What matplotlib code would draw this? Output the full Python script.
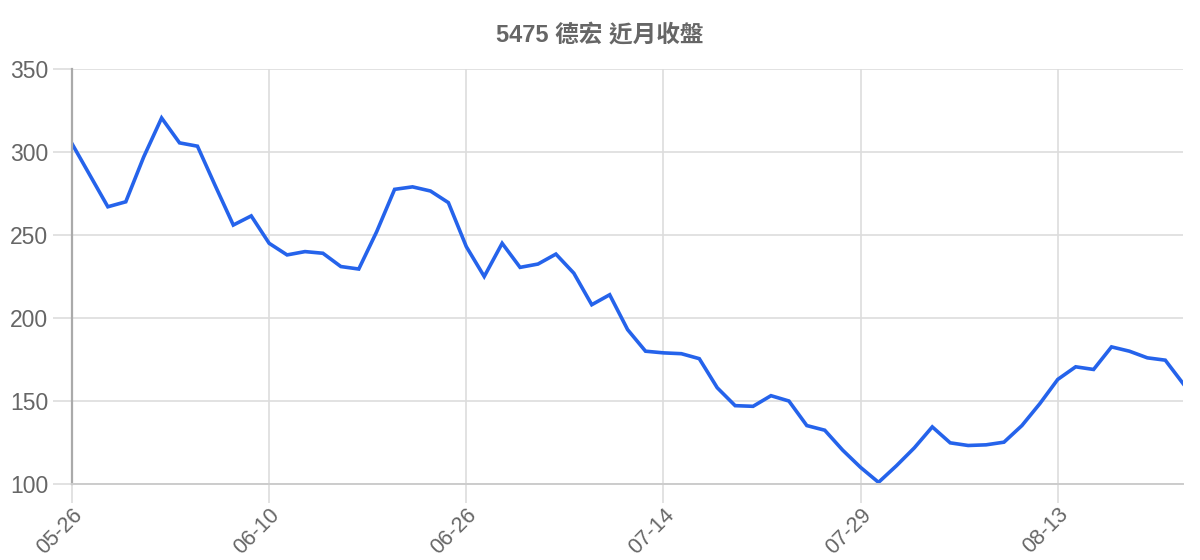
import matplotlib
matplotlib.use("Agg")
import matplotlib.pyplot as plt

dates = ["05-26", "05-27", "05-28", "05-29", "05-30", "06-02", "06-03", "06-04", "06-05", "06-06",
         "06-09", "06-10", "06-11", "06-12", "06-13", "06-16", "06-17", "06-18", "06-19", "06-20",
         "06-23", "06-24", "06-26", "06-27", "06-30", "07-01", "07-02", "07-03", "07-04", "07-07",
         "07-08", "07-09", "07-10", "07-14", "07-15", "07-16", "07-17", "07-18", "07-21", "07-22",
         "07-23", "07-24", "07-25", "07-28", "07-29", "07-30", "07-31", "08-01", "08-04", "08-05",
         "08-06", "08-07", "08-08", "08-11", "08-12", "08-13", "08-14", "08-15", "08-18", "08-19",
         "08-20", "08-21", "08-22"]

close = [305, 286, 267, 270, 297, 320.5, 305.5, 303.5, 279.5, 256, 261.5, 245, 238, 240, 239,
         231, 229.5, 252, 277.5, 279, 276.5, 269.5, 243, 225, 245, 230.5, 232.5, 238.5, 227,
         208, 214, 193, 180, 179, 178.5, 175.5, 158, 147.2, 146.8, 153.2, 150, 135.2, 132.4,
         120.4, 110, 101, 111, 121.8, 134.4, 124.8, 123.2, 123.6, 125.2, 135.2, 148.4, 163,
         170.6, 169, 182.6, 180, 176, 174.6, 160.4]

title = "5475 德宏 近月收盤"
yticks = [100, 150, 200, 250, 300, 350]
tick_step = 11

fig = plt.figure(figsize=(12, 5.6), dpi=100)
ax = fig.add_axes([0.06, 0.1357, 0.926, 0.7411])

x = list(range(len(close)))
ax.plot(x, close, color="#2563eb", linewidth=2.6, solid_joinstyle="miter")

ax.set_xlim(0, len(close) - 1)
ax.set_ylim(100, 350)
ax.set_yticks(yticks)
ax.set_yticklabels([str(v) for v in yticks], family="Liberation Sans", fontsize=16.5, color="#666666")
xt = list(range(0, len(close), tick_step))
ax.set_xticks(xt)
ax.set_xticklabels([dates[i] for i in xt], family="Liberation Sans", fontsize=15.5, color="#666666",
                   rotation=45, ha="right", rotation_mode="anchor")

ax.grid(True, color="#dddddd", linewidth=1.2)
ax.set_axisbelow(True)
ax.tick_params(axis="y", length=14, width=1.2, color="#dddddd", pad=3)
ax.tick_params(axis="x", length=13.5, width=1.2, color="#dddddd", pad=1)

for s in ["top", "right"]:
    ax.spines[s].set_visible(False)
ax.spines["left"].set_color("#aaaaaa")
ax.spines["left"].set_linewidth(1.6)
ax.spines["bottom"].set_color("#cccccc")
ax.spines["bottom"].set_linewidth(1.4)

fig.text(0.5, 0.937, title, ha="center", va="center", fontsize=17, fontweight="bold",
         color="#666666", family=["Liberation Sans", "Noto Sans CJK TC"])

fig.savefig("out.png", dpi=100, facecolor="white")
